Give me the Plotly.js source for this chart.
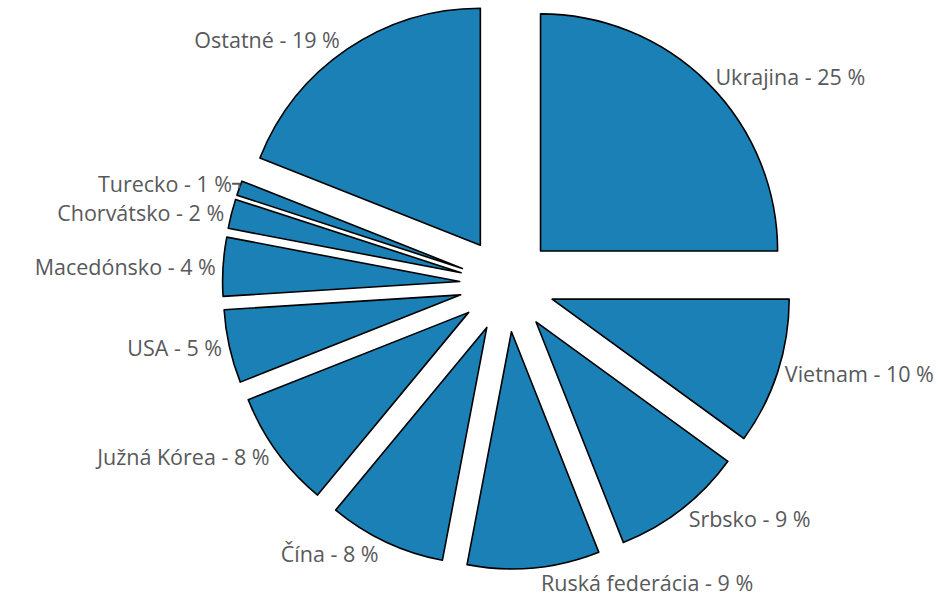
<!DOCTYPE html>
<html>
<head>
<meta charset="utf-8">
<script src="https://cdn.plot.ly/plotly-3.0.1.min.js"></script>
<style>html,body{margin:0;padding:0;background:#fff;}#chart{width:940px;height:612px;}</style>
</head>
<body>
<div id="chart"></div>
<script>
const countries = ["Ukrajina", "Vietnam", "Srbsko", "Ruská federácia", "Čína", "Južná Kórea", "USA", "Macedónsko", "Chorvátsko", "Turecko", "Ostatné"];
const shares = [25, 10, 9, 9, 8, 8, 5, 4, 2, 1, 19];

const trace = {
  type: "pie",
  labels: countries,
  values: shares,
  sort: false,
  direction: "clockwise",
  rotation: 0,
  pull: 0.2,
  marker: {colors: countries.map(() => "#1a80b6"), line: {color: "#000000", width: 1.6}},
  texttemplate: "%{label} - %{value} %",
  textposition: "outside",
  outsidetextfont: {family: "Open Sans, sans-serif", size: 21.5, color: "#58595b"},
  hoverinfo: "none",
  showlegend: false
};

const layout = {
  width: 940,
  height: 612,
  margin: {l: 160, r: 86, t: 0, b: 43},
  paper_bgcolor: "#ffffff",
  plot_bgcolor: "#ffffff",
  showlegend: false
};

Plotly.newPlot("chart", [trace], layout, {displayModeBar: false, staticPlot: true});
</script>
</body>
</html>
